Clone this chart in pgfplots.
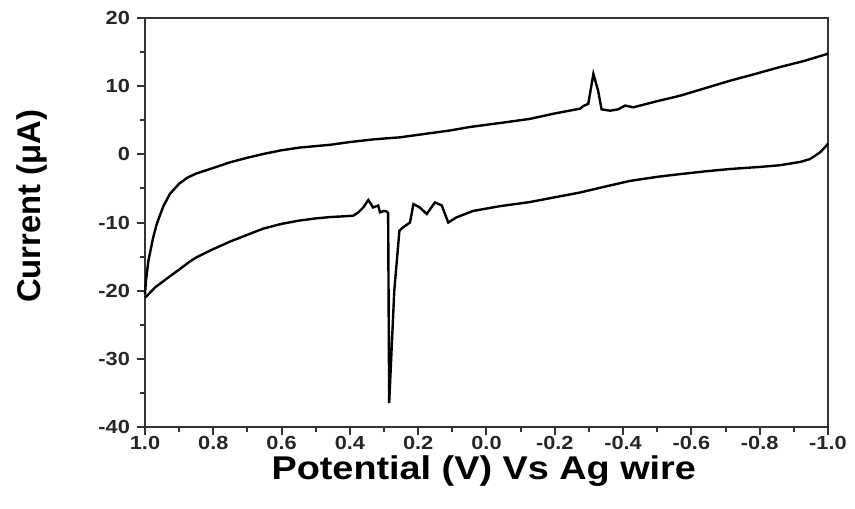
\documentclass[border=0pt]{standalone}
\usepackage{fontspec}
\setmainfont{Liberation Sans}
\newfontfamily\wide[FakeStretch=1.15]{Liberation Sans}
\usepackage{pgfplots}
\pgfplotsset{compat=1.18}

\begin{document}
\begin{tikzpicture}
\begin{axis}[at={(0,0)},anchor=south west,scale only axis,
  width=341.5bp,height=204.5bp,
  x dir=reverse,xmin=-1,xmax=1,ymin=-40,ymax=20,
  xtick={-1,-0.8,...,1.01},ytick={-40,-30,...,20},
  minor x tick num=1,minor y tick num=1,
  xtick pos=bottom,ytick pos=left,tick align=outside,
  major tick length=4bp,minor tick length=2.5bp,
  axis line style={black!80,line width=1.4bp},
  every tick/.style={black!80,line width=1bp},
  xticklabel style={/pgf/number format/fixed,/pgf/number format/fixed zerofill,/pgf/number format/precision=1,yshift=3bp},
  /pgf/number format/assume math mode=true,
  tick label style={font=\wide\bfseries\fontsize{9.5}{11}\selectfont,black!85},
  xlabel={Potential (V) Vs Ag wire},
  ylabel={Current (μA)},
  xlabel style={at={(axis description cs:0.496,-0.108)},anchor=center,font=\wide\bfseries\fontsize{16.5}{19}\selectfont},
  ylabel style={at={(axis description cs:-0.165,0.54)},anchor=center,font=\bfseries\fontsize{16.5}{19}\selectfont},
  clip=false]
% cathodic branch, 1.0 -> -1.0 V
\addplot[black,line width=1.2bp] coordinates {
(1.000,-21.0) (0.995,-20.8) (0.970,-19.5) (0.946,-18.6) (0.900,-16.9)
(0.868,-15.7) (0.849,-15.1) (0.800,-13.9) (0.751,-12.8) (0.700,-11.8)
(0.654,-10.9) (0.600,-10.2) (0.546,-9.7) (0.500,-9.4) (0.458,-9.2)
(0.420,-9.1) (0.390,-9.0) (0.375,-8.5) (0.361,-7.8) (0.346,-6.7)
(0.332,-7.8) (0.317,-7.5) (0.312,-8.5) (0.300,-8.3) (0.292,-8.4)
(0.288,-8.6) (0.285,-36.5) (0.270,-20.0) (0.255,-11.2) (0.244,-10.7)
(0.224,-10.0) (0.214,-7.3) (0.195,-7.8) (0.175,-8.75) (0.151,-7.05)
(0.131,-7.5) (0.112,-10.0) (0.088,-9.25) (0.039,-8.3) (-0.040,-7.6)
(-0.127,-7.0) (-0.200,-6.3) (-0.274,-5.6) (-0.350,-4.7) (-0.420,-3.9)
(-0.500,-3.3) (-0.567,-2.9) (-0.640,-2.5) (-0.713,-2.15) (-0.800,-1.85)
(-0.859,-1.6) (-0.920,-1.1) (-0.947,-0.7) (-0.977,0.3) (-0.996,1.3)
(-1.000,1.6)
};
% anodic branch, -1.0 -> 1.0 V
\addplot[black,line width=1.2bp] coordinates {
(-1.000,14.8) (-0.996,14.7) (-0.930,13.7) (-0.859,12.8) (-0.780,11.7)
(-0.713,10.8) (-0.640,9.7) (-0.567,8.6) (-0.500,7.8) (-0.430,6.9)
(-0.406,7.15) (-0.385,6.6) (-0.362,6.4) (-0.337,6.6) (-0.327,9.3)
(-0.313,11.8) (-0.298,7.4) (-0.284,7.1) (-0.274,6.7) (-0.200,6.0)
(-0.127,5.2) (-0.040,4.6) (0.050,4.0) (0.107,3.5) (0.180,3.0)
(0.253,2.5) (0.330,2.2) (0.400,1.8) (0.458,1.4) (0.546,1.0)
(0.600,0.6) (0.654,0.05) (0.700,-0.5) (0.751,-1.17) (0.800,-2.0)
(0.849,-2.8) (0.875,-3.4) (0.900,-4.3) (0.927,-5.8) (0.946,-7.6)
(0.956,-8.9) (0.966,-10.3) (0.976,-12.2) (0.990,-15.6) (0.997,-18.5)
(1.000,-20.5)
};
\end{axis}
\pgfresetboundingbox
\useasboundingbox (-72.5bp,-41bp) rectangle (355bp,213.5bp);
\end{tikzpicture}
\end{document}
